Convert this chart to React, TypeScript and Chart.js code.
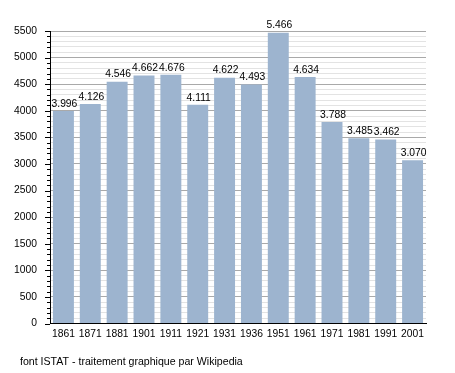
import React, { useEffect, useRef } from "react";
import { Chart, registerables } from "chart.js";

Chart.register(...registerables);

const years = ["1861", "1871", "1881", "1901", "1911", "1921", "1931", "1936", "1951", "1961", "1971", "1981", "1991", "2001"];
const population = [3996, 4126, 4546, 4662, 4676, 4111, 4622, 4493, 5466, 4634, 3788, 3485, 3462, 3070];
const yMax = 5500;
const yMajorStep = 500;
const yMinorStep = 100;
const footerText = "font ISTAT - traitement graphique par Wikipedia";

const FONT = "'Liberation Sans', Arial, sans-serif";
const FS = 10.3;

function fmt(v: number): string {
  const th = Math.floor(v / 1000);
  const rest = String(v % 1000).padStart(3, "0");
  return th > 0 ? `${th}.${rest}` : String(v);
}

const overlayPlugin = {
  id: "overlay",
  afterDatasetsDraw(chart: any) {
    const ctx = chart.ctx;
    const meta = chart.getDatasetMeta(0);
    ctx.save();
    ctx.font = `${FS}px ${FONT}`;
    ctx.fillStyle = "#000";
    ctx.textAlign = "center";
    ctx.textBaseline = "bottom";
    meta.data.forEach((bar: any, i: number) => {
      ctx.fillText(fmt(population[i]), bar.x + 1, bar.y - 2);
    });
    ctx.restore();
  },
  afterDraw(chart: any) {
    const ctx = chart.ctx;
    const y = chart.scales.y;
    const left = chart.chartArea.left;
    ctx.save();
    ctx.strokeStyle = "#000";
    ctx.lineWidth = 1;
    ctx.beginPath();
    for (let v = 0; v <= yMax; v += yMinorStep) {
      const py = Math.round(y.getPixelForValue(v)) + 0.5;
      const len = v % yMajorStep === 0 ? 5 : 3;
      ctx.moveTo(left - len, py);
      ctx.lineTo(left, py);
    }
    ctx.stroke();
    ctx.font = `10.6px ${FONT}`;
    ctx.fillStyle = "#000";
    ctx.textAlign = "left";
    ctx.textBaseline = "middle";
    ctx.fillText(footerText, 20, 362);
    ctx.restore();
  },
};

export default function App() {
  const ref = useRef<HTMLCanvasElement | null>(null);

  useEffect(() => {
    if (!ref.current) return;
    const chart = new Chart(ref.current, {
      type: "bar",
      data: {
        labels: years,
        datasets: [
          {
            data: population,
            backgroundColor: "#9db4cf",
            borderWidth: 0,
            barPercentage: 0.78,
            categoryPercentage: 1,
          },
        ],
      },
      options: {
        animation: false,
        responsive: false,
        devicePixelRatio: 1,
        layout: { padding: { left: 0, top: 31, right: 29, bottom: 0 } },
        plugins: {
          legend: { display: false },
          tooltip: { enabled: false },
          title: { display: false },
        },
        scales: {
          x: {
            grid: { display: false, drawTicks: false },
            border: { display: true, color: "#000", width: 1 },
            ticks: {
              color: "#000",
              font: { family: FONT, size: FS },
              padding: 4,
              maxRotation: 0,
              autoSkip: false,
            },
            afterFit: (scale: any) => {
              scale.height = 49.5;
            },
          },
          y: {
            min: 0,
            max: yMax,
            grid: {
              drawTicks: false,
              color: (c: any) => (c.tick && c.tick.value % yMajorStep === 0 ? "#a9a9a9" : "#e3e3e3"),
              lineWidth: 1,
            },
            border: { display: true, color: "#000", width: 1 },
            ticks: {
              stepSize: yMinorStep,
              autoSkip: false,
              color: "#000",
              font: { family: FONT, size: FS },
              padding: 13,
              callback: (v: any) => (Number(v) % yMajorStep === 0 ? String(v) : ""),
            },
            afterFit: (scale: any) => {
              scale.width = 50;
            },
          },
        },
      },
      plugins: [overlayPlugin],
    });
    return () => chart.destroy();
  }, []);

  return (
    <div style={{ position: "fixed", left: 0, top: 0, width: 455, height: 373, background: "#fff" }}>
      <canvas ref={ref} width={455} height={373} style={{ display: "block", width: 455, height: 373 }} />
    </div>
  );
}
